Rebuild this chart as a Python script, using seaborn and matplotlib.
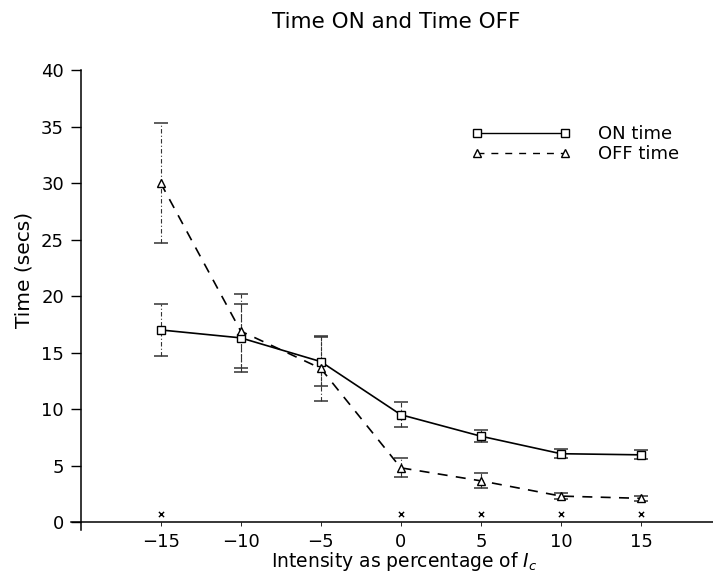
import numpy as np
import pandas as pd
import matplotlib
matplotlib.use("Agg")
import matplotlib.pyplot as plt
import seaborn as sns
from matplotlib.lines import Line2D

intensity = [-15, -10, -5, 0, 5, 10, 15]
on_time = [17.0, 16.3, 14.2, 9.5, 7.6, 6.05, 5.95]
on_err = [2.3, 3.0, 2.2, 1.1, 0.55, 0.4, 0.4]
off_time = [30.0, 16.9, 13.6, 4.8, 3.65, 2.3, 2.1]
off_err = [5.3, 3.3, 2.9, 0.85, 0.65, 0.3, 0.25]
base_x = [-15, 0, 5, 10, 15]
base_y = [0.7, 0.7, 0.7, 0.7, 0.7]
xticks = [-15, -10, -5, 0, 5, 10, 15]
yticks = [0, 5, 10, 15, 20, 25, 30, 35, 40]

sns.set_style("ticks")
plt.rcParams['font.family'] = ['DejaVu Sans']
plt.rcParams.update({"text.color": "black", "axes.labelcolor": "black",
                     "xtick.color": "black", "ytick.color": "black",
                     "axes.edgecolor": "black"})

df = pd.DataFrame({
    "x": intensity * 2,
    "y": on_time + off_time,
    "series": ["ON time"] * len(intensity) + ["OFF time"] * len(intensity),
})

fig = plt.figure(figsize=(7.13, 5.78), dpi=100)
ax = fig.add_axes([71 / 713, 1 - 530 / 578, 1 - 71 / 713, (530 - 70) / 578])

# error bars
for ys, es in [(on_time, on_err), (off_time, off_err)]:
    eb = ax.errorbar(intensity, ys, yerr=es, fmt="none", ecolor="#333333",
                     elinewidth=0.8, capsize=5, capthick=1.1, zorder=1)
    eb[2][0].set_linestyle((0, (4, 2, 1, 2)))

sns.lineplot(data=df, x="x", y="y", style="series",
             markers={"ON time": "s", "OFF time": "^"},
             dashes={"ON time": "", "OFF time": (6, 5)},
             color="black", linewidth=1.2, markersize=6,
             markerfacecolor="white", markeredgecolor="black",
             markeredgewidth=1.0, legend=False, ax=ax, zorder=3)

sns.scatterplot(x=base_x, y=base_y, marker="x", s=14, color="black",
                linewidth=1.0, ax=ax, zorder=3)

ax.set_xlim(-20.6, 19.5)
ax.set_ylim(-0.7, 40)
ax.spines["left"].set_position(("data", -20))
ax.spines["bottom"].set_position(("data", 0))
ax.spines["left"].set_bounds(-0.7, 40)
ax.spines["bottom"].set_bounds(-20.6, 19.5)
ax.spines["right"].set_visible(False)
ax.spines["top"].set_visible(False)
for s in ["left", "bottom"]:
    ax.spines[s].set_linewidth(1.1)

ax.set_xticks(xticks)
ax.set_yticks(yticks)
ax.tick_params(axis="y", direction="out", length=7, width=1.0, labelsize=13, pad=5)
ax.tick_params(axis="x", direction="out", length=3, width=0.6, labelsize=13, pad=5)

ax.set_xlabel(r"Intensity as percentage of $I_c$", fontsize=13.5)
ax.set_ylabel("Time (secs)", fontsize=14.5)
ax.xaxis.set_label_coords((404 - 71) / 642, (530 - 550) / 460)
ax.yaxis.set_label_coords((34 - 71) / 642, (530 - 270) / 460)

fig.text(396 / 713, 1 - 22 / 578, "Time ON and Time OFF", ha="center", va="center", fontsize=15.5)

handles = [
    Line2D([], [], color="black", linestyle="-", linewidth=1.0, marker="s",
           markersize=6, markerfacecolor="white", markeredgecolor="black"),
    Line2D([], [], color="black", linestyle=(0, (5, 5)), linewidth=1.0, marker="^",
           markersize=6, markerfacecolor="white", markeredgecolor="black"),
]
ax.legend(handles, ["ON time", "OFF time"], loc="upper left",
          bbox_to_anchor=(455 / 713, 1 - 109 / 578), bbox_transform=fig.transFigure,
          frameon=False, numpoints=2, handlelength=5.5, fontsize=13,
          labelspacing=0.1, handletextpad=1.5)

fig.savefig("out.png", dpi=100)
